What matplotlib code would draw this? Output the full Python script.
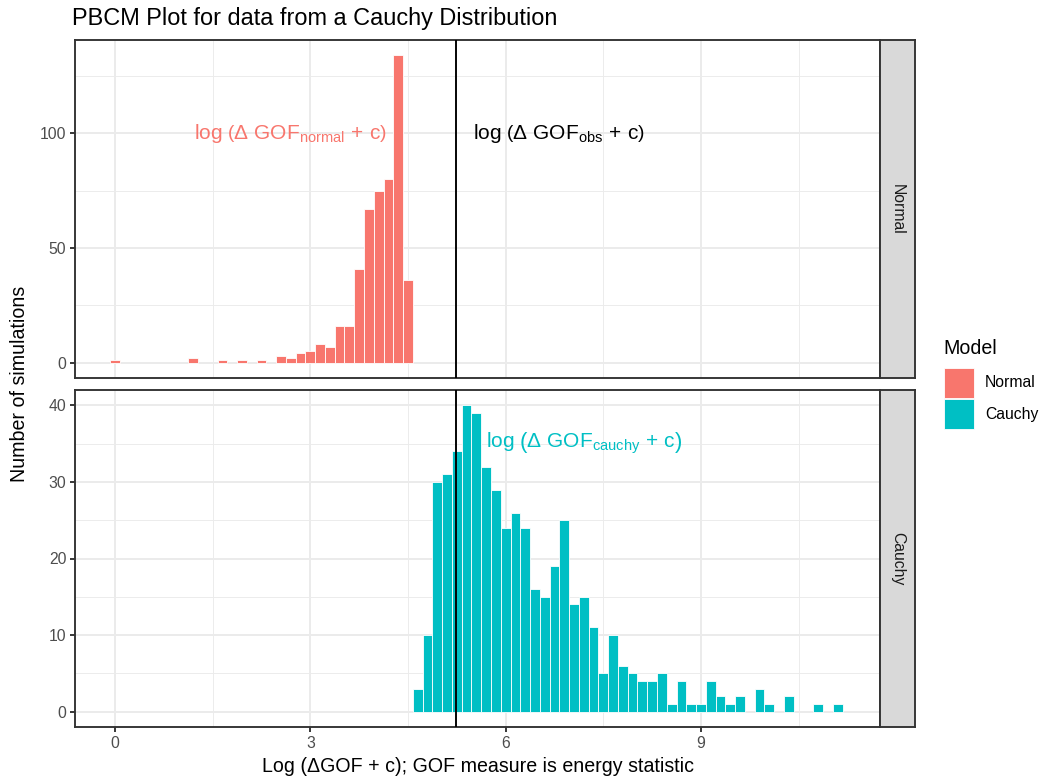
import matplotlib
matplotlib.use("Agg")
import matplotlib.pyplot as plt
from matplotlib.patches import Rectangle

plt.rcParams['font.family'] = ['Liberation Sans', 'DejaVu Sans']
plt.rcParams['mathtext.fontset'] = 'custom'
plt.rcParams['mathtext.rm'] = 'Liberation Sans'
plt.rcParams['mathtext.it'] = 'Liberation Sans'
plt.rcParams['mathtext.bf'] = 'Liberation Sans:bold'

## Dados (histogramas com binwidth 0.15)
binwidth = 0.15
normal_centers = [0.0, 1.2, 1.65, 1.95, 2.25, 2.55, 2.7, 2.85, 3.0, 3.15,
                  3.3, 3.45, 3.6, 3.75, 3.9, 4.05, 4.2, 4.35, 4.5]
normal_counts = [1, 2, 1, 1, 1, 3, 2, 4, 5, 8,
                 7, 16, 16, 41, 67, 75, 80, 134, 36]

cauchy_centers = [4.65, 4.8, 4.95, 5.1, 5.25, 5.4, 5.55, 5.7, 5.85, 6.0,
                  6.15, 6.3, 6.45, 6.6, 6.75, 6.9, 7.05, 7.2, 7.35, 7.5,
                  7.65, 7.8, 7.95, 8.1, 8.25, 8.4, 8.55, 8.7, 8.85, 9.0,
                  9.15, 9.3, 9.45, 9.6, 9.9, 10.05, 10.35, 10.8, 11.1]
cauchy_counts = [3, 10, 30, 31, 34, 40, 39, 32, 29, 24,
                 26, 24, 16, 15, 19, 25, 14, 15, 11, 5,
                 10, 6, 5, 4, 4, 5, 1, 4, 1, 1,
                 4, 2, 1, 2, 3, 1, 2, 1, 1]

obs_value = 5.24
models = ["Normal", "Cauchy"]
colors = {"Normal": "#F8766D", "Cauchy": "#00BFC4"}

W, H = 1041, 780
fig = plt.figure(figsize=(W / 100, H / 100), dpi=100)


def px_axes(x0, y0, x1, y1):
    """cria axes a partir de coordenadas em pixels (origem no topo)"""
    return fig.add_axes([x0 / W, 1 - y1 / H, (x1 - x0) / W, (y1 - y0) / H])


def gof_label(sub):
    return (r"$\mathrm{log}\ \left(\Delta\ \mathrm{GOF}_{\mathrm{" + sub
            + r"}}\,+\,\mathrm{c}\right)$")


def style_panel(ax, yticks, yminor, show_x):
    ax.set_xlim(-0.614, 11.75)
    ax.set_xticks([0, 3, 6, 9])
    ax.set_xticks([1.5, 4.5, 7.5, 10.5], minor=True)
    ax.set_yticks(yticks)
    ax.set_yticks(yminor, minor=True)
    ax.grid(which='major', color='#EBEBEB', lw=1.37)
    ax.grid(which='minor', color='#EBEBEB', lw=0.68)
    ax.set_axisbelow(True)
    ax.tick_params(which='minor', length=0)
    ax.tick_params(which='major', length=3.5, width=1.37, color='#333333',
                   labelcolor='#4D4D4D', labelsize=11.3, pad=2.8)
    if not show_x:
        ax.tick_params(axis='x', which='both', bottom=False, labelbottom=False)
    for s in ax.spines.values():
        s.set_color('#333333')
        s.set_linewidth(1.37)


def strip(y0, y1, label):
    sax = px_axes(880, y0, 915, y1)
    sax.set_xticks([])
    sax.set_yticks([])
    sax.set_facecolor('#D9D9D9')
    for s in sax.spines.values():
        s.set_color('#333333')
        s.set_linewidth(1.37)
    sax.text(0.5, 0.5, label, rotation=-90, ha='center', va='center',
             fontsize=11.3, color='#1A1A1A', transform=sax.transAxes)


# painel superior: Normal
ax1 = px_axes(75, 40, 880, 378)
ax1.bar(normal_centers, normal_counts, width=binwidth, color=colors["Normal"],
        edgecolor='white', linewidth=0.6, zorder=2)
ax1.set_ylim(-6.7, 140.7)
style_panel(ax1, [0, 50, 100], [25, 75, 125], show_x=False)
ax1.axvline(obs_value, color='black', lw=1.37, zorder=3)
ax1.text(2.69, 100, gof_label("normal"), color=colors["Normal"],
         fontsize=15, ha='center', va='center')
ax1.text(6.82, 100, gof_label("obs"), color='black',
         fontsize=15, ha='center', va='center')
strip(40, 378, "Normal")

# painel inferior: Cauchy
ax2 = px_axes(75, 390, 880, 727)
ax2.bar(cauchy_centers, cauchy_counts, width=binwidth, color=colors["Cauchy"],
        edgecolor='white', linewidth=0.6, zorder=2)
ax2.set_ylim(-2, 42)
style_panel(ax2, [0, 10, 20, 30, 40], [5, 15, 25, 35], show_x=True)
ax2.axvline(obs_value, color='black', lw=1.37, zorder=3)
ax2.text(7.21, 35, gof_label("cauchy"), color=colors["Cauchy"],
         fontsize=15, ha='center', va='center')
strip(390, 727, "Cauchy")

# títulos
fig.text(72 / W, 1 - 18 / H, "PBCM Plot for data from a Cauchy Distribution",
         fontsize=16.9, ha='left', va='center', color='black')
fig.text(477.5 / W, 1 - 766 / H, "Log (\u0394GOF + c); GOF measure is energy statistic",
         fontsize=14.1, ha='center', va='center', color='black')
fig.text(20 / W, 1 - 383.5 / H, "Number of simulations", rotation=90,
         fontsize=14.1, ha='center', va='center', color='black')

# legenda
fig.text(943 / W, 1 - 348 / H, "Model", fontsize=14.1, ha='left', va='center')
for i, m in enumerate(models):
    top = 367.5 + i * 31.5
    fig.patches.append(Rectangle((944 / W, 1 - (top + 30) / H), 30 / W, 30 / H,
                                 transform=fig.transFigure, facecolor=colors[m],
                                 edgecolor='white', linewidth=0.6))
    fig.text(985 / W, 1 - (top + 15) / H, m, fontsize=11.3, ha='left', va='center')

plt.savefig("out.png", dpi=100)
